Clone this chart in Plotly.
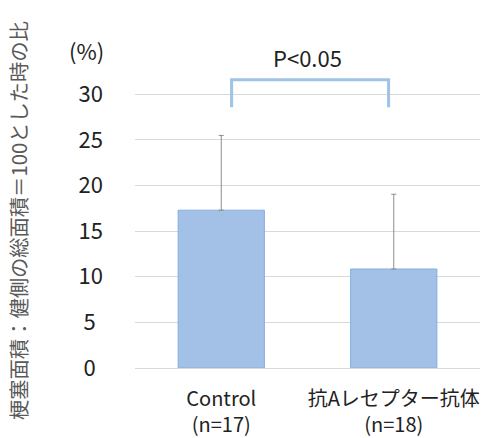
import plotly.graph_objects as go

categories = ["Control<br>(n=17)", "抗Aレセプター抗体<br>(n=18)"]
means = [17.3, 10.85]
sd = [8.2, 8.2]
tick_vals = [0, 5, 10, 15, 20, 25, 30]
tick_labels = ["0", "5", "10", "15", "20", "25", "30"]

FONT = "Noto Sans CJK JP, sans-serif"

# pad single-digit labels so they sit centred like the original
tick_text = [t + "\u2004" if len(t) == 1 else t for t in tick_labels]

fig = go.Figure()
fig.add_trace(go.Bar(
    x=[0, 1], y=means, width=0.5,
    marker=dict(color="#a3c1e7", line=dict(color="#84aee0", width=1)),
    error_y=dict(type="data", array=sd, symmetric=False,
                 color="#8c8c8c", thickness=1, width=2.5),
))

# significance bracket
fig.add_shape(type="path", xref="x", yref="y",
              path="M 0.06,28.6 L 0.06,31.6 L 0.97,31.6 L 0.97,28.6",
              line=dict(color="#9dc3e6", width=3))

fig.add_annotation(x=(307 - 135) / 345, y=(368 - 57) / 301, xref="paper", yref="paper",
                   xanchor="center", yanchor="middle",
                   text="P<0.05", showarrow=False,
                   font=dict(size=22, color="#222", family=FONT))
fig.add_annotation(x=(86 - 135) / 345, y=(368 - 50) / 301, xref="paper", yref="paper",
                   xanchor="center", yanchor="middle",
                   text="(%)", showarrow=False,
                   font=dict(size=22, color="#222", family=FONT))
fig.add_annotation(x=(18 - 135) / 345, y=(368 - 221) / 301, xref="paper", yref="paper",
                   xanchor="center", yanchor="middle",
                   text="梗塞面積：健側の総面積＝100とした時の比", textangle=-90,
                   showarrow=False,
                   font=dict(size=20.3, color="#595959", family=FONT))

fig.update_layout(
    width=486, height=430,
    margin=dict(l=127, r=14, t=59, b=70, autoexpand=False),
    paper_bgcolor="white", plot_bgcolor="white",
    showlegend=False,
    font=dict(family=FONT, color="#222"),
)
fig.update_xaxes(range=[-0.5, 1.5], tickvals=[0, 1], ticktext=categories,
                 showgrid=False, showline=True, linecolor="#d9d9d9", linewidth=1,
                 ticks="", tickfont=dict(size=20, color="#222", family=FONT),
                 ticklabelstandoff=13, zeroline=False, automargin=False)
fig.update_yaxes(range=[0, 33], tickvals=tick_vals, ticktext=tick_text,
                 showgrid=True, gridcolor="#d9d9d9",
                 gridwidth=1, zeroline=False, ticks="",
                 tickfont=dict(size=22, color="#222", family=FONT),
                 ticklabelstandoff=31, automargin=False)

fig.write_html("out.html")
